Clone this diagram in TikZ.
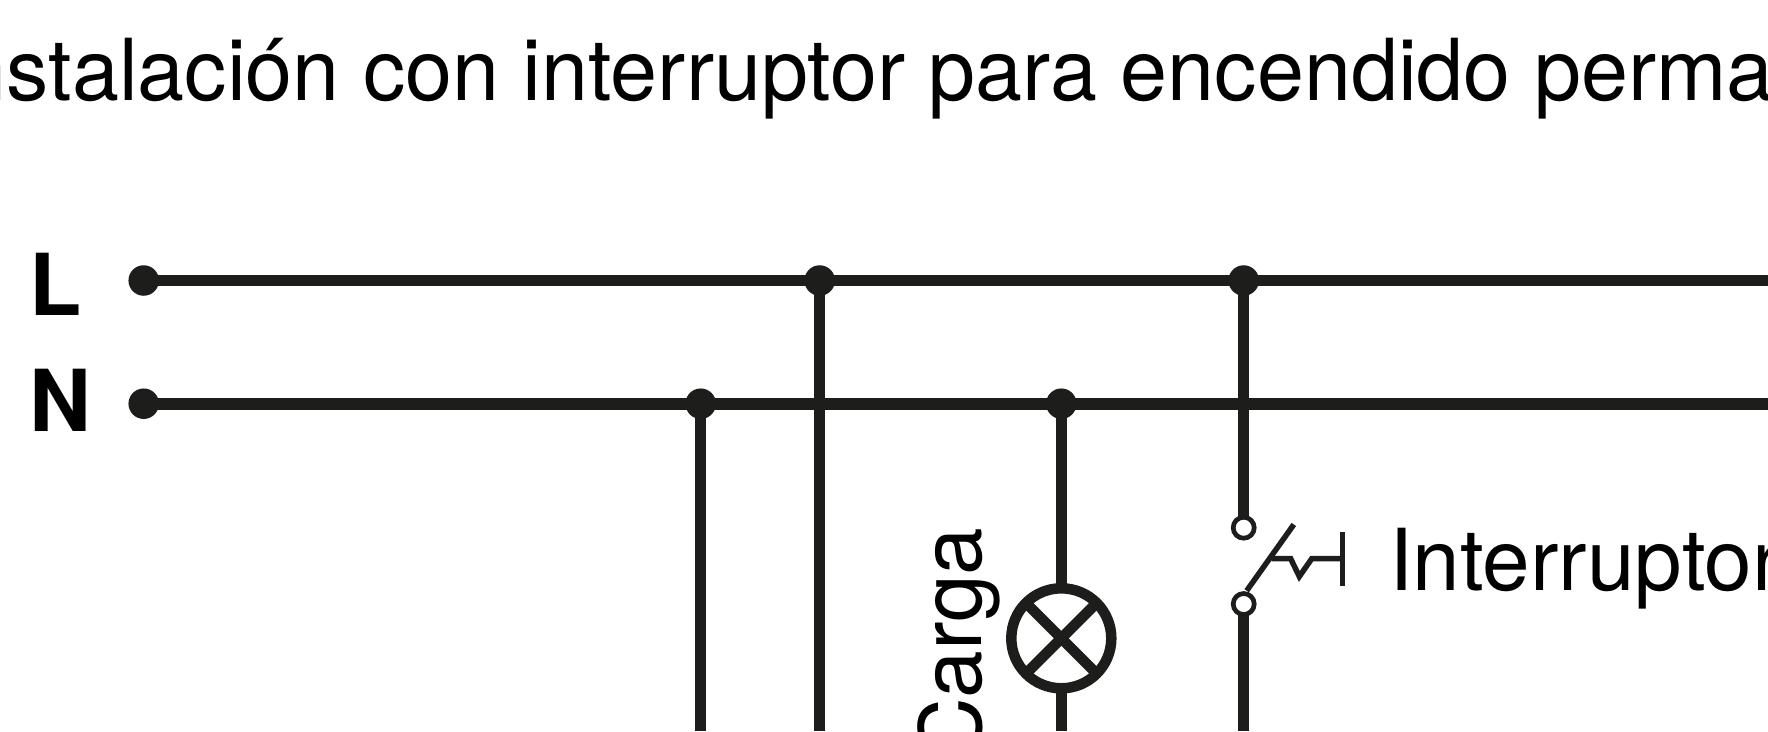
\documentclass[tikz,border=0pt]{standalone}
\usepackage{fontspec}
\setmainfont{TeX Gyre Heros}
\newfontfamily\titlefont[FakeStretch=0.988]{TeX Gyre Heros}
\definecolor{wire}{HTML}{1D1D1B}
\tikzset{
  every node/.style={inner sep=0pt,outer sep=0pt},
  lbl/.style={font=\fontsize{85.5}{90}\selectfont,text=black},
  ttl/.style={font=\titlefont\fontsize{85.5}{90}\selectfont,text=black},
  blbl/.style={font=\fontsize{85.5}{90}\selectfont\bfseries,text=black},
  hwire/.style={draw=wire,line width=11.6pt},
  wirel/.style={draw=wire,line width=11pt},
  lampx/.style={draw=wire,line width=10.5pt},
  thin wire/.style={draw=wire,line width=5.5pt},
  jdot/.style={circle,fill=wire,minimum size=30.5pt},
  contact/.style={circle,draw=wire,fill=white,line width=4.7pt,minimum size=21pt},
  lamp/.style={circle,draw=wire,line width=10.5pt,minimum size=100pt}
}
\begin{document}
\begin{tikzpicture}[x=1pt,y=-1pt]
\useasboundingbox (0,0) rectangle (1768,731);
\clip (0,0) rectangle (1768,731);
\fill[white] (0,0) rectangle (1768,731);
\node[ttl,anchor=base west] (title) at (-63.5,100) {Instalación con interruptor para encendido permanente};
\node[blbl,anchor=base west] (tL) at (29,315.7) {L};
\node[blbl,anchor=base west] (tN) at (29,431.3) {N};
\node[lbl,anchor=base west] (tI) at (1389,590) {Interruptor};
\node[lbl,anchor=base east,rotate=90] (tC) at (981.7,528) {Carga};
% end points
\coordinate (Lend) at (1768,280.5);
\coordinate (Nend) at (1768,403.7);
\coordinate (b1) at (700.7,731);
\coordinate (b2) at (819.7,731);
\coordinate (b3) at (1061.3,731);
\coordinate (b4) at (1243.7,731);
% terminals and junctions
\node[jdot] (Ls) at (143.7,280.5) {};
\node[jdot] (Ns) at (143.7,403.7) {};
\node[jdot] (j2) at (819.7,280.5) {};
\node[jdot] (j4) at (1243.7,280.5) {};
\node[jdot] (j1) at (700.7,403.7) {};
\node[jdot] (j3) at (1061.3,403.7) {};
\node[lamp] (lmp) at (1061.3,638.3) {};
\node[contact] (c1) at (1243.7,527.7) {};
\node[contact] (c2) at (1243.7,604) {};
\draw[hwire] (Ls.center) -- (Lend);
\draw[hwire] (Ns.center) -- (Nend);
\draw[wirel] (j1.center) -- (b1);
\draw[wirel] (j2.center) -- (b2);
\draw[wirel] (j3.center) -- (lmp.north);
\draw[wirel] (lmp.south) -- (b3);
\draw[wirel] (j4.center) -- (c1.north);
\draw[wirel] (c2.south) -- (b4);
% lamp cross
\draw[lampx] (lmp.north west) -- (lmp.south east);
\draw[lampx] (lmp.north east) -- (lmp.south west);
% switch
\coordinate (bladeA) at (1246.7,590.7);
\coordinate (bladeB) at (1293.8,524.5);
\coordinate (act0) at (1271.7,558.7);
\coordinate (act1) at (1290.7,558.7);
\coordinate (act2) at (1299.3,576.5);
\coordinate (act3) at (1311.7,558.7);
\coordinate (act4) at (1342.7,558.7);
\coordinate (bar1) at (1342.7,532.3);
\coordinate (bar2) at (1342.7,586);
\draw[thin wire] (bladeA) -- (bladeB);
\draw[thin wire] (act0) -- (act1) -- (act2) -- (act3) -- (act4);
\draw[thin wire] (bar1) -- (bar2);
\end{tikzpicture}
\end{document}
